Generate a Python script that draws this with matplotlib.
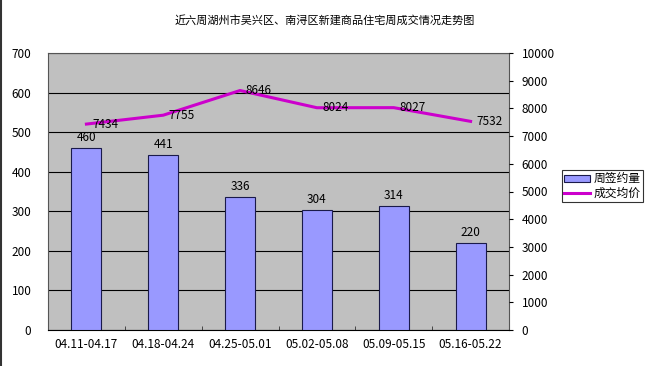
import matplotlib
matplotlib.use("Agg")
import matplotlib.pyplot as plt
from matplotlib.lines import Line2D

plt.rcParams['font.family'] = ['Noto Sans CJK SC', 'DejaVu Sans']

title = "近六周湖州市吴兴区、南浔区新建商品住宅周成交情况走势图"
categories = ["04.11-04.17", "04.18-04.24", "04.25-05.01", "05.02-05.08", "05.09-05.15", "05.16-05.22"]
volume = [460, 441, 336, 304, 314, 220]
price = [7434, 7755, 8646, 8024, 8027, 7532]
bar_name = "周签约量"
line_name = "成交均价"

fig = plt.figure(figsize=(6.5, 3.66), dpi=100)
fig.patch.set_facecolor("white")
fig.add_artist(Line2D([1/650, 1/650], [0, 1], transform=fig.transFigure,
                      color="#333333", linewidth=1.5))

ax = fig.add_axes([48/650, 1-330/366, 461/650, 277/366])
ax.set_facecolor("#C0C0C0")
x = list(range(len(categories)))
bars = ax.bar(x, volume, width=0.39, color="#9999FF", edgecolor="#1a1a4a", linewidth=0.8, zorder=3)
ax.set_xlim(-0.5, len(categories) - 0.5)
ax.set_ylim(0, 700)
ax.set_yticks(range(0, 701, 100))
ax.yaxis.grid(True, color="#000000", linewidth=0.8, zorder=1)
ax.set_axisbelow(True)
ax.tick_params(axis="y", length=0, labelsize=8.5, pad=12)
ax.set_xticks(x)
ax.set_xticklabels(categories, fontsize=8.5)
ax.set_xticks([i + 0.5 for i in x[:-1]], minor=True)
ax.tick_params(axis="x", which="major", length=0, pad=6)
ax.tick_params(axis="x", which="minor", direction="in", length=3, color="#333333")
for s in ax.spines.values():
    s.set_color("#555555")
    s.set_linewidth(0.8)
ax.spines["bottom"].set_color("#000000")
for xi, v in zip(x, volume):
    ax.annotate(str(v), (xi, v), xytext=(0, 3), textcoords="offset points",
                ha="center", va="bottom", fontsize=8.5, zorder=5)

ax2 = ax.twinx()
ax2.set_ylim(0, 10000)
ax2.set_yticks(range(0, 10001, 1000))
ax2.tick_params(axis="y", direction="out", length=3, labelsize=8.5, pad=6)
line, = ax2.plot(x, price, color="#CC00CC", linewidth=2.2, zorder=4)
for xi, v in zip(x, price):
    ax2.annotate(str(v), (xi, v), xytext=(4, 0), textcoords="offset points",
                 ha="left", va="center", fontsize=8.5, zorder=5)
for s in ax2.spines.values():
    s.set_visible(False)

fig.text(0.5, 1 - 20/366, title, ha="center", va="center", fontsize=8)

leg = fig.legend([bars, line], [bar_name, line_name], loc="center left",
                 bbox_to_anchor=(562/650, 1 - 186/366), fontsize=8.5, frameon=True,
                 fancybox=False, handlelength=2.2, handleheight=0.6,
                 borderpad=0.2, labelspacing=0.1, handletextpad=0.3, borderaxespad=0)
leg.get_frame().set_edgecolor("#000000")
leg.get_frame().set_linewidth(0.8)

fig.savefig("out.png", dpi=100)
